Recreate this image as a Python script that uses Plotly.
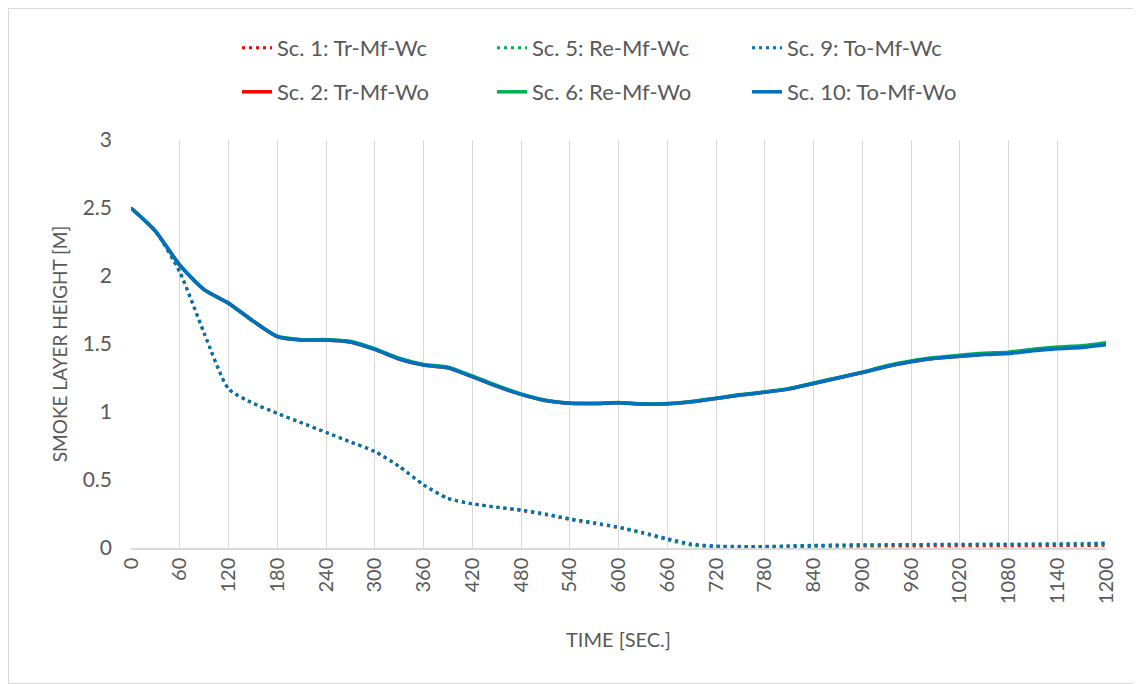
import plotly.graph_objects as go

time_s = list(range(0, 1201, 30))

# Wc scenarios (dotted)
sc1_tr_wc = [2.50, 2.33, 2.03, 1.58, 1.17, 1.065, 0.99, 0.92, 0.85, 0.78, 0.71, 0.60, 0.465, 0.365,
             0.325, 0.30, 0.275, 0.245, 0.21, 0.18, 0.15, 0.11, 0.065, 0.025, 0.012, 0.010, 0.008,
             0.010, 0.012, 0.013, 0.014, 0.015, 0.015, 0.016, 0.016, 0.016, 0.017, 0.017, 0.018, 0.018, 0.020]
sc5_re_wc = [2.50, 2.33, 2.03, 1.58, 1.17, 1.065, 0.99, 0.92, 0.85, 0.78, 0.71, 0.60, 0.465, 0.365,
             0.325, 0.30, 0.28, 0.25, 0.215, 0.185, 0.15, 0.108, 0.06, 0.02, 0.010, 0.010, 0.010,
             0.015, 0.018, 0.020, 0.022, 0.023, 0.024, 0.025, 0.026, 0.027, 0.027, 0.028, 0.029, 0.030, 0.034]
sc9_to_wc = [2.50, 2.33, 2.03, 1.58, 1.17, 1.065, 0.99, 0.92, 0.85, 0.78, 0.71, 0.60, 0.465, 0.365,
             0.325, 0.30, 0.28, 0.25, 0.215, 0.185, 0.155, 0.115, 0.07, 0.03, 0.015, 0.012, 0.012,
             0.015, 0.020, 0.022, 0.024, 0.025, 0.026, 0.027, 0.027, 0.028, 0.028, 0.029, 0.030, 0.032, 0.038]

# Wo scenarios (solid)
sc2_tr_wo = [2.50, 2.33, 2.08, 1.90, 1.80, 1.67, 1.555, 1.53, 1.53, 1.515, 1.46, 1.39, 1.345, 1.325,
             1.26, 1.19, 1.13, 1.085, 1.065, 1.062, 1.068, 1.058, 1.06, 1.075, 1.10, 1.125, 1.145,
             1.17, 1.21, 1.25, 1.29, 1.335, 1.37, 1.395, 1.41, 1.425, 1.435, 1.455, 1.47, 1.48, 1.50]
sc6_re_wo = [2.50, 2.33, 2.08, 1.90, 1.80, 1.67, 1.557, 1.532, 1.532, 1.52, 1.465, 1.395, 1.35, 1.33,
             1.265, 1.195, 1.133, 1.087, 1.066, 1.063, 1.069, 1.06, 1.062, 1.077, 1.102, 1.128, 1.148,
             1.173, 1.213, 1.253, 1.293, 1.34, 1.375, 1.40, 1.418, 1.432, 1.44, 1.462, 1.478, 1.487, 1.51]
sc10_to_wo = [2.50, 2.33, 2.08, 1.90, 1.80, 1.67, 1.555, 1.53, 1.53, 1.515, 1.46, 1.39, 1.345, 1.325,
              1.26, 1.19, 1.13, 1.085, 1.065, 1.062, 1.068, 1.058, 1.06, 1.075, 1.10, 1.125, 1.145,
              1.17, 1.21, 1.25, 1.29, 1.335, 1.37, 1.395, 1.41, 1.422, 1.43, 1.45, 1.465, 1.475, 1.495]

x_ticks = list(range(0, 1201, 60))
y_ticks = [0, 0.5, 1, 1.5, 2, 2.5, 3]
y_tick_text = ["0", "0.5", "1", "1.5", "2", "2.5", "3"]

RED, GREEN, BLUE = "#FF0000", "#00B050", "#0070C0"
FONT = "Lato"
GRAY = "#595959"

fig = go.Figure()
dotted = [("Sc. 1: Tr-Mf-Wc", sc1_tr_wc, RED), ("Sc. 5: Re-Mf-Wc", sc5_re_wc, GREEN),
          ("Sc. 9: To-Mf-Wc", sc9_to_wc, BLUE)]
solid = [("Sc. 2: Tr-Mf-Wo", sc2_tr_wo, RED), ("Sc. 6: Re-Mf-Wo", sc6_re_wo, GREEN),
         ("Sc. 10: To-Mf-Wo", sc10_to_wo, BLUE)]

for name, ys, col in dotted:
    fig.add_trace(go.Scatter(x=time_s, y=ys, name=name, mode="lines", legend="legend",
                             line=dict(color=col, width=3, dash="3px,4px", shape="spline", smoothing=0.6)))
for name, ys, col in solid:
    fig.add_trace(go.Scatter(x=time_s, y=ys, name=name, mode="lines", legend="legend2",
                             line=dict(color=col, width=3.5, shape="spline", smoothing=0.6)))

# page is rendered with an 8px body margin; figure coordinates below are screen - 8
W, H = 1133, 676
L, R, T, B = 123, 35, 132, 136
pw, ph = W - L - R, H - T - B

def px(xp):
    return (xp - L) / pw

def py(yp):
    return (H - B - yp) / ph

fig.update_layout(
    width=W, height=H,
    margin=dict(l=L, r=R, t=T, b=B),
    paper_bgcolor="white", plot_bgcolor="white",
    font=dict(family=FONT, color=GRAY, size=19),
    showlegend=True,
    legend=dict(orientation="h", x=px(229), y=py(40), xanchor="left", yanchor="middle",
                entrywidth=210, entrywidthmode="pixels", font=dict(size=22, color=GRAY),
                bgcolor="rgba(0,0,0,0)", traceorder="normal"),
    legend2=dict(orientation="h", x=px(229), y=py(84), xanchor="left", yanchor="middle",
                 entrywidth=210, entrywidthmode="pixels", font=dict(size=22, color=GRAY),
                 bgcolor="rgba(0,0,0,0)", traceorder="normal"),
    xaxis=dict(range=[0, 1200], tickvals=x_ticks, ticktext=[str(v) for v in x_ticks],
               tickangle=-90, showgrid=True, gridcolor="#D9D9D9", gridwidth=1,
               showline=True, linecolor="#D9D9D9", linewidth=1.5, zeroline=False,
               ticks="", tickfont=dict(size=20, color=GRAY),
               title=dict(text="TIME [SEC.]", font=dict(size=20, color=GRAY), standoff=30)),
    yaxis=dict(range=[0, 3], tickvals=y_ticks, ticktext=y_tick_text, showgrid=False,
               showline=False, zeroline=False, ticks="", tickfont=dict(size=21, color=GRAY),
               ticklabelstandoff=18,
               title=dict(text="SMOKE LAYER HEIGHT [M]", font=dict(size=19, color=GRAY), standoff=10)),
    shapes=[dict(type="rect", xref="paper", yref="paper", x0=px(0.5), x1=px(W - 1), y0=py(H - 0.5), y1=py(0.5),
                 line=dict(color="#D9D9D9", width=1), fillcolor="rgba(0,0,0,0)", layer="below")],
)

fig.write_html("out.html")
